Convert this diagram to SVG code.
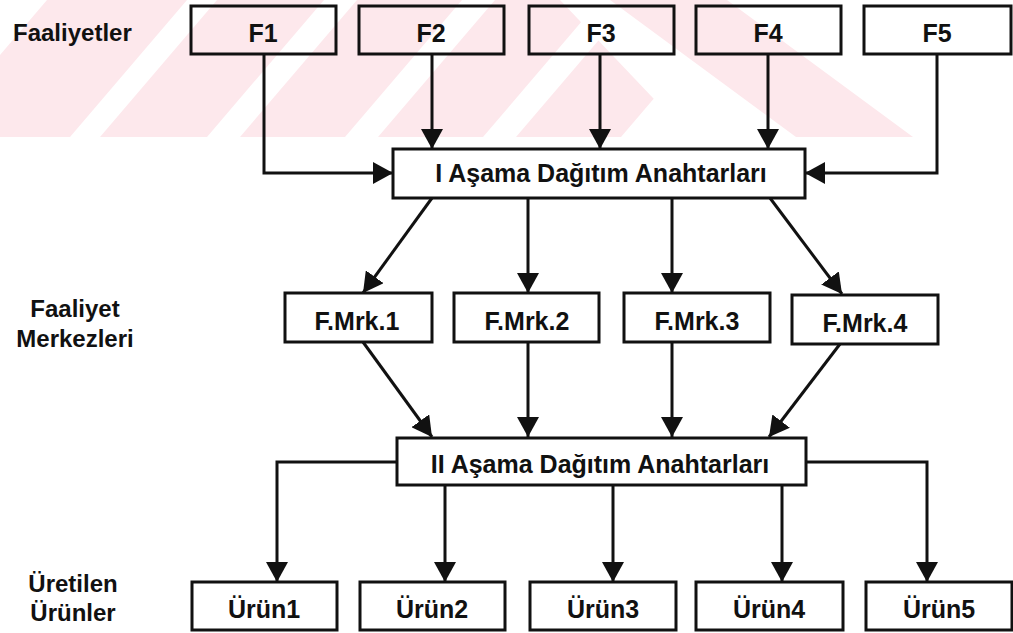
<svg xmlns="http://www.w3.org/2000/svg" width="1013" height="633" viewBox="0 0 1013 633">
<style>
.box{fill:none;stroke:#111;stroke-width:3}
.t{font-family:"Liberation Sans",Arial,sans-serif;font-weight:bold;font-size:25px;fill:#111;text-anchor:middle}
.lbl{font-family:"Liberation Sans",Arial,sans-serif;font-weight:bold;font-size:24px;fill:#111}
.c{fill:none;stroke:#111;stroke-width:3;marker-end:url(#ah)}
.wm{fill:#fde8ec}
</style>
<defs>
<marker id="ah" markerUnits="userSpaceOnUse" markerWidth="22" markerHeight="22" refX="20" refY="11" orient="auto">
<path d="M0,0 L20,11 L0,22 Z" fill="#111"/>
</marker>
<clipPath id="wmclip"><polygon points="0,0 560,0 690,137 0,137"/></clipPath>
</defs>
<rect width="1013" height="633" fill="#fff"/>
<g id="watermark">
<g clip-path="url(#wmclip)">
<polygon class="wm" points="-70,137 70,137 187,0 47,0"/>
<polygon class="wm" points="100,137 207,137 324,0 217,0"/>
<polygon class="wm" points="240,137 345,137 462,0 357,0"/>
<polygon class="wm" points="378,137 483,137 600,0 495,0"/>
<polygon class="wm" points="516,137 621,137 738,0 633,0"/>
</g>
<polygon class="wm" points="610,0 727,0 913,137 796,137"/>
</g>
<g id="labels">
<text class="lbl" x="13" y="41">Faaliyetler</text>
<text class="lbl" x="75" y="317" text-anchor="middle">Faaliyet</text>
<text class="lbl" x="75" y="347" text-anchor="middle">Merkezleri</text>
<text class="lbl" x="73" y="592" text-anchor="middle">Üretilen</text>
<text class="lbl" x="73" y="621" text-anchor="middle">Ürünler</text>
</g>
<g id="connectors">
<polyline class="c" points="264,54 264,173 393,173"/>
<line class="c" x1="432" y1="54" x2="432" y2="149"/>
<line class="c" x1="600" y1="54" x2="600" y2="149"/>
<line class="c" x1="768" y1="54" x2="768" y2="149"/>
<polyline class="c" points="937,54 937,173 805,173"/>
<line class="c" x1="432" y1="198" x2="363" y2="293"/>
<line class="c" x1="528" y1="198" x2="528" y2="293"/>
<line class="c" x1="672" y1="198" x2="672" y2="293"/>
<line class="c" x1="770" y1="198" x2="842" y2="294"/>
<line class="c" x1="363" y1="342" x2="432" y2="437"/>
<line class="c" x1="528" y1="342" x2="528" y2="437"/>
<line class="c" x1="672" y1="342" x2="672" y2="437"/>
<line class="c" x1="840" y1="344" x2="769" y2="437"/>
<polyline class="c" points="397,462 277,462 277,582"/>
<line class="c" x1="445" y1="485" x2="445" y2="582"/>
<line class="c" x1="613" y1="485" x2="613" y2="582"/>
<line class="c" x1="782" y1="485" x2="782" y2="582"/>
<polyline class="c" points="806,462 927,462 927,582"/>
</g>
<g id="F1"><rect class="box" x="191" y="6" width="145" height="48"/><text class="t" x="263" y="42">F1</text></g>
<g id="F2"><rect class="box" x="359" y="6" width="145" height="48"/><text class="t" x="431" y="42">F2</text></g>
<g id="F3"><rect class="box" x="529" y="6" width="145" height="48"/><text class="t" x="601" y="42">F3</text></g>
<g id="F4"><rect class="box" x="696" y="6" width="145" height="48"/><text class="t" x="768" y="42">F4</text></g>
<g id="F5"><rect class="box" x="864" y="6" width="147" height="48"/><text class="t" x="937" y="42">F5</text></g>
<g id="stage1"><rect class="box" x="393" y="149" width="412" height="49"/><text class="t" x="601" y="182">I Aşama Dağıtım Anahtarları</text></g>
<g id="FM1"><rect class="box" x="285" y="293" width="147" height="49"/><text class="t" x="357" y="330">F.Mrk.1</text></g>
<g id="FM2"><rect class="box" x="454" y="293" width="145" height="49"/><text class="t" x="527" y="330">F.Mrk.2</text></g>
<g id="FM3"><rect class="box" x="624" y="293" width="146" height="49"/><text class="t" x="697" y="330">F.Mrk.3</text></g>
<g id="FM4"><rect class="box" x="792" y="295" width="146" height="49"/><text class="t" x="865" y="332">F.Mrk.4</text></g>
<g id="stage2"><rect class="box" x="397" y="438" width="409" height="47"/><text class="t" x="600" y="473">II Aşama Dağıtım Anahtarları</text></g>
<g id="U1"><rect class="box" x="192" y="582" width="145" height="48"/><text class="t" x="264" y="618">Ürün1</text></g>
<g id="U2"><rect class="box" x="360" y="582" width="145" height="48"/><text class="t" x="432" y="618">Ürün2</text></g>
<g id="U3"><rect class="box" x="530" y="582" width="146" height="48"/><text class="t" x="603" y="618">Ürün3</text></g>
<g id="U4"><rect class="box" x="696" y="582" width="147" height="48"/><text class="t" x="769" y="618">Ürün4</text></g>
<g id="U5"><rect class="box" x="866" y="582" width="146" height="48"/><text class="t" x="939" y="618">Ürün5</text></g>
</svg>
